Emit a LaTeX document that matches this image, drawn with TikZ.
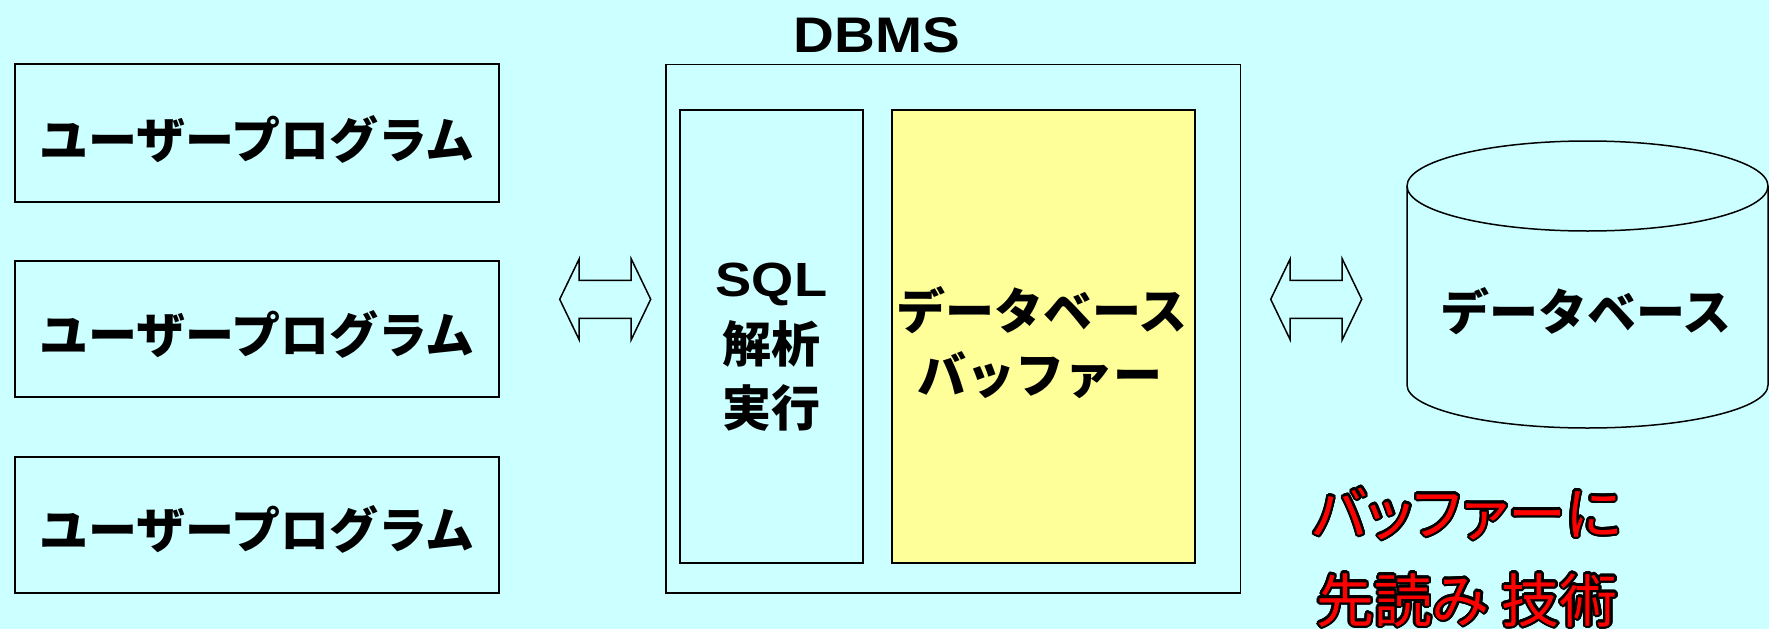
\documentclass[tikz,border=0pt]{standalone}
\usepackage{fontspec}
\usepackage{contour}
\newfontfamily\jpfont{Noto Sans CJK JP}
\newfontfamily\jpprop{Noto Sans CJK JP}[RawFeature=+palt]
\newfontfamily\latfont{Liberation Sans}[FakeStretch=1.13]
\definecolor{bgc}{HTML}{CCFFFF}
\definecolor{buf}{HTML}{FFFF99}
\contourlength{2.2pt}
\contournumber{24}
\tikzset{
  box/.style={draw=black, line width=1.5pt, fill=bgc},
  jptext/.style={inner sep=0pt, anchor=base, font=\jpfont\bfseries\fontsize{49}{49}\selectfont},
  lattext/.style={inner sep=0pt, anchor=base, font=\latfont\bfseries\fontsize{50}{50}\selectfont},
  redtext/.style={inner sep=0pt, anchor=base, font=\jpprop\fontsize{58}{58}\selectfont},
  dblarr/.pic={
    \draw[line width=1.5pt, fill=bgc, line join=miter]
      (-45.5,0) -- (-26,-40.5) -- (-26,-19) -- (26,-19) -- (26,-40.5) -- (45.5,0)
      -- (26,40.5) -- (26,19) -- (-26,19) -- (-26,40.5) -- cycle;
  }
}
\begin{document}
\begin{tikzpicture}[x=1pt, y=-1pt]
\useasboundingbox (0,0) rectangle (1769,629);
\fill[bgc] (0,0) rectangle (1769,629);

% user program boxes
\draw[box] (15,64) rectangle (499,202);
\draw[box] (15,261) rectangle (499,397);
\draw[box] (15,457) rectangle (499,593);
\node[jptext] (u1) at (257,158.5) {ユーザープログラム};
\node[jptext] (u2) at (257,353) {ユーザープログラム};
\node[jptext] (u3) at (257,548.5) {ユーザープログラム};

% DBMS
\node[lattext] (dbmslabel) at (877,52) {DBMS};
\draw[box] (666,64.5) rectangle (1240.5,593);
\draw[box] (680,110) rectangle (863,563);
\draw[box, fill=buf] (892,110) rectangle (1195,563);
\node[lattext, font=\latfont\bfseries\fontsize{48}{48}\selectfont] (sql) at (771.5,296) {SQL};
\node[jptext] (kaiseki) at (771.5,362) {解析};
\node[jptext] (jikkou) at (771.5,426) {実行};
\node[jptext] (buf1) at (1042,329) {データベース};
\node[jptext] (buf2) at (1040,393) {バッファー};

% arrows
\coordinate (la) at (605.2,299.3);
\coordinate (ra) at (1316.2,299.3);
\pic at (la) {dblarr};
\pic at (ra) {dblarr};

% database cylinder
\draw[line width=1.5pt, fill=bgc]
  (1407,186) -- (1407,385)
  .. controls (1407,408.7) and (1487.8,428) .. (1587.5,428)
  .. controls (1687.2,428) and (1768,408.7) .. (1768,385)
  -- (1768,186);
\draw[line width=1.5pt] (1587.5,186) ellipse [x radius=180.5, y radius=45];
\node[jptext] (db) at (1586,330) {データベース};

% red note
\node[redtext] (note1) at (1467,535) {\contour{black}{\textcolor{red}{バッファーに}}};
\node[redtext] (note2) at (1467,622) {\contour{black}{\textcolor{red}{先読み 技術}}};
\end{tikzpicture}
\end{document}
